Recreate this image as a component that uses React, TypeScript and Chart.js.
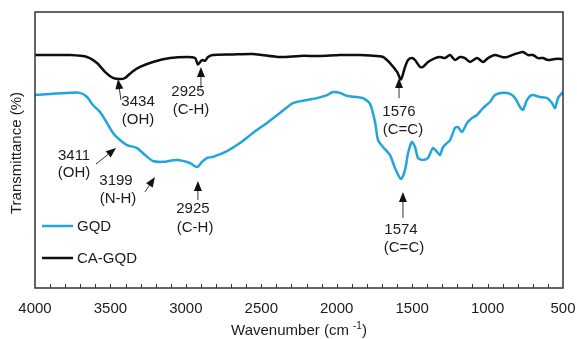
import React, { useEffect, useRef } from "react";
import { Chart, registerables } from "chart.js";

Chart.register(...registerables);

// ---- Data ----
const gqdWavenumber = [4000, 3901, 3768, 3702, 3655, 3616, 3569, 3523, 3483, 3437, 3390, 3324, 3271, 3218, 3152, 3059, 2973, 2926, 2893, 2860, 2820, 2727, 2641, 2555, 2462, 2376, 2290, 2197, 2131, 2064, 2025, 1978, 1932, 1866, 1826, 1779, 1746, 1726, 1693, 1647, 1614, 1574, 1547, 1527, 1501, 1481, 1461, 1428, 1395, 1362, 1335, 1315, 1295, 1249, 1216, 1196, 1170, 1136, 1103, 1070, 1030, 984, 951, 898, 851, 818, 785, 765, 739, 705, 653, 606, 573, 553, 533, 500];
const gqdTransmittance = [69.9, 70.3, 70.7, 70.7, 69.2, 66.3, 63.8, 59.8, 56.2, 53.6, 51.8, 50.7, 48.2, 46.0, 45.7, 46.4, 45.3, 43.8, 45.7, 47.1, 47.5, 49.6, 52.5, 56.2, 59.8, 63.4, 67.0, 68.1, 68.8, 69.9, 71.0, 70.7, 69.6, 69.2, 68.8, 66.7, 60.1, 53.6, 51.1, 48.2, 43.5, 39.5, 42.8, 48.9, 52.9, 51.1, 47.1, 46.4, 47.1, 50.7, 49.3, 48.2, 51.1, 53.6, 58.0, 58.3, 56.5, 59.8, 61.6, 62.7, 65.2, 67.4, 69.9, 70.7, 70.3, 68.8, 65.6, 64.5, 68.1, 69.9, 69.2, 68.8, 67.0, 65.2, 68.8, 71.0];

const caWavenumber = [4000, 3901, 3768, 3655, 3589, 3536, 3483, 3437, 3403, 3357, 3304, 3218, 3105, 2992, 2939, 2920, 2893, 2873, 2853, 2820, 2700, 2555, 2376, 2243, 2111, 1978, 1846, 1779, 1693, 1647, 1600, 1574, 1547, 1527, 1501, 1481, 1448, 1428, 1395, 1348, 1315, 1282, 1249, 1216, 1183, 1150, 1116, 1070, 1030, 997, 951, 904, 871, 838, 798, 765, 732, 699, 666, 633, 599, 553, 500];
const caTransmittance = [84.4, 84.4, 84.4, 83.7, 81.5, 78.3, 76.1, 75.7, 76.1, 78.3, 80.1, 81.9, 83.3, 83.7, 83.3, 81.0, 82.6, 82.3, 83.7, 84.4, 84.6, 84.8, 83.7, 84.1, 84.1, 84.4, 84.4, 84.2, 83.7, 81.5, 78.3, 75.6, 80.1, 82.6, 83.3, 82.6, 80.1, 80.1, 81.9, 83.3, 83.7, 83.3, 84.4, 82.6, 83.7, 83.3, 81.9, 83.3, 81.9, 83.3, 84.4, 83.7, 83.7, 84.4, 85.1, 85.5, 84.4, 84.4, 83.3, 83.3, 82.6, 83.0, 83.0];

const seriesNames = ["GQD", "CA-GQD"];
const xTickLabels = ["4000", "3500", "3000", "2500", "2000", "1500", "1000", "500"];

// Peak annotations: label lines, arrow tip/tail and text anchors (wavenumber, value)
const peakNumbers = ["3434", "2925", "1576", "3411", "3199", "2925", "1574"];
const peakGroups = ["(OH)", "(C-H)", "(C=C)", "(OH)", "(N-H)", "(C-H)", "(C=C)"];
const peakTipW = [3450, 2900, 1587, 3463, 3205, 2920, 1561];
const peakTipV = [75.7, 80.1, 76.1, 50.7, 40.2, 38.8, 34.8];
const peakTailW = [3430, 2900, 1587, 3596, 3271, 2920, 1561];
const peakTailV = [68.1, 72.5, 68.8, 44.9, 34.8, 31.9, 25.4];
const peakNumW = [3317, 2986, 1587, 3741, 3463, 2953, 1574];
const peakNumV = [67.4, 71.0, 63.8, 47.8, 38.8, 28.6, 21.0];
const peakGroupW = [3317, 2966, 1561, 3741, 3450, 2939, 1554];
const peakGroupV = [60.9, 64.5, 57.2, 41.7, 32.2, 21.7, 14.5];

const BLUE = "#22a5dd";
const BLACK = "#0e0e0e";
const TEXT = "#1c1c1c";
const FONT = '15px "Liberation Sans", Arial, sans-serif';

function drawArrow(ctx: CanvasRenderingContext2D, x0: number, y0: number, x1: number, y1: number) {
  const dx = x1 - x0;
  const dy = y1 - y0;
  const len = Math.sqrt(dx * dx + dy * dy);
  const ux = dx / len;
  const uy = dy / len;
  const headLen = 10;
  const headW = 4;
  const bx = x1 - ux * headLen;
  const by = y1 - uy * headLen;
  ctx.strokeStyle = "#333";
  ctx.lineWidth = 1;
  ctx.beginPath();
  ctx.moveTo(x0, y0);
  ctx.lineTo(bx, by);
  ctx.stroke();
  ctx.fillStyle = "#111";
  ctx.beginPath();
  ctx.moveTo(x1, y1);
  ctx.lineTo(bx - uy * headW, by + ux * headW);
  ctx.lineTo(bx + uy * headW, by - ux * headW);
  ctx.closePath();
  ctx.fill();
}

const decorPlugin = {
  id: "decor",
  afterDraw(chart: any) {
    const { ctx, chartArea, scales } = chart;
    const xs = scales.x;
    const ys = scales.y;
    const { left, right, top, bottom } = chartArea;
    ctx.save();

    // frame
    ctx.strokeStyle = "#333";
    ctx.lineWidth = 1.5;
    ctx.strokeRect(left, top, right - left, bottom - top);

    // inward minor ticks every 100
    ctx.lineWidth = 1;
    ctx.beginPath();
    for (let w = 600; w < 4000; w += 100) {
      const px = Math.round(xs.getPixelForValue(w)) + 0.5;
      ctx.moveTo(px, bottom);
      ctx.lineTo(px, bottom - 4);
    }
    ctx.stroke();

    // annotations
    ctx.font = FONT;
    ctx.textAlign = "center";
    ctx.textBaseline = "middle";
    for (let i = 0; i < peakNumbers.length; i++) {
      drawArrow(
        ctx,
        xs.getPixelForValue(peakTailW[i]),
        ys.getPixelForValue(peakTailV[i]),
        xs.getPixelForValue(peakTipW[i]),
        ys.getPixelForValue(peakTipV[i])
      );
      ctx.fillStyle = TEXT;
      ctx.fillText(peakNumbers[i], xs.getPixelForValue(peakNumW[i]), ys.getPixelForValue(peakNumV[i]));
      ctx.fillText(peakGroups[i], xs.getPixelForValue(peakGroupW[i]), ys.getPixelForValue(peakGroupV[i]));
    }

    // legend
    const legendColors = [BLUE, BLACK];
    const legendY = [top + 214, top + 246];
    ctx.textAlign = "left";
    for (let i = 0; i < seriesNames.length; i++) {
      ctx.strokeStyle = legendColors[i];
      ctx.lineWidth = 2.5;
      ctx.beginPath();
      ctx.moveTo(left + 7, legendY[i]);
      ctx.lineTo(left + 38, legendY[i]);
      ctx.stroke();
      ctx.fillStyle = TEXT;
      ctx.fillText(seriesNames[i], left + 42, legendY[i] + 1);
    }

    // y title
    ctx.save();
    ctx.translate(17, (top + bottom) / 2 + 3);
    ctx.rotate(-Math.PI / 2);
    ctx.textAlign = "center";
    ctx.fillStyle = TEXT;
    ctx.fillText("Transmittance (%)", 0, 0);
    ctx.restore();

    // x title with superscript
    const mainA = "Wavenumber (cm ";
    const sup = "-1";
    const mainB = ")";
    ctx.font = FONT;
    const wA = ctx.measureText(mainA).width;
    const wB = ctx.measureText(mainB).width;
    ctx.font = '10px "Liberation Sans", Arial, sans-serif';
    const wS = ctx.measureText(sup).width;
    const total = wA + wS + wB;
    const cx = (left + right) / 2;
    const ty = 331;
    let x = cx - total / 2;
    ctx.textAlign = "left";
    ctx.fillStyle = TEXT;
    ctx.font = FONT;
    ctx.fillText(mainA, x, ty);
    x += wA;
    ctx.font = '10px "Liberation Sans", Arial, sans-serif';
    ctx.fillText(sup, x, ty - 5);
    x += wS;
    ctx.font = FONT;
    ctx.fillText(mainB, x, ty);

    ctx.restore();
  },
};

export default function App() {
  const canvasRef = useRef<HTMLCanvasElement | null>(null);

  useEffect(() => {
    document.body.style.margin = "0";
    const canvas = canvasRef.current;
    if (!canvas) return;
    const gqdData = gqdWavenumber.map((w, i) => ({ x: w, y: gqdTransmittance[i] }));
    const caData = caWavenumber.map((w, i) => ({ x: w, y: caTransmittance[i] }));
    const tickValues = xTickLabels.map((t) => Number(t));

    const chart = new Chart(canvas, {
      type: "line",
      data: {
        datasets: [
          {
            label: seriesNames[0],
            data: gqdData,
            borderColor: BLUE,
            borderWidth: 2.5,
            pointRadius: 0,
            tension: 0.25,
            fill: false,
          },
          {
            label: seriesNames[1],
            data: caData,
            borderColor: BLACK,
            borderWidth: 2.5,
            pointRadius: 0,
            tension: 0.25,
            fill: false,
          },
        ],
      },
      options: {
        responsive: false,
        animation: false,
        events: [],
        layout: { padding: { left: 35, right: 14, top: 12, bottom: 0 } },
        plugins: {
          legend: { display: false },
          tooltip: { enabled: false },
          title: { display: false },
        },
        scales: {
          x: {
            type: "linear",
            reverse: true,
            min: 500,
            max: 4000,
            border: { display: false },
            grid: { display: false, drawTicks: false },
            afterBuildTicks: (scale: any) => {
              scale.ticks = tickValues.map((v) => ({ value: v }));
            },
            ticks: {
              autoSkip: false,
              maxRotation: 0,
              padding: 12,
              color: TEXT,
              font: { family: '"Liberation Sans", Arial, sans-serif', size: 15 },
              callback: (v: any) => String(v),
            },
            afterFit: (scale: any) => {
              scale.height = 51;
              scale.paddingLeft = 0;
              scale.paddingRight = 0;
            },
          },
          y: {
            type: "linear",
            min: 0,
            max: 100,
            display: false,
          },
        },
      },
      plugins: [decorPlugin],
    });
    return () => chart.destroy();
  }, []);

  return (
    <div style={{ width: 577, height: 339 }}>
      <canvas ref={canvasRef} width={577} height={339} />
    </div>
  );
}
